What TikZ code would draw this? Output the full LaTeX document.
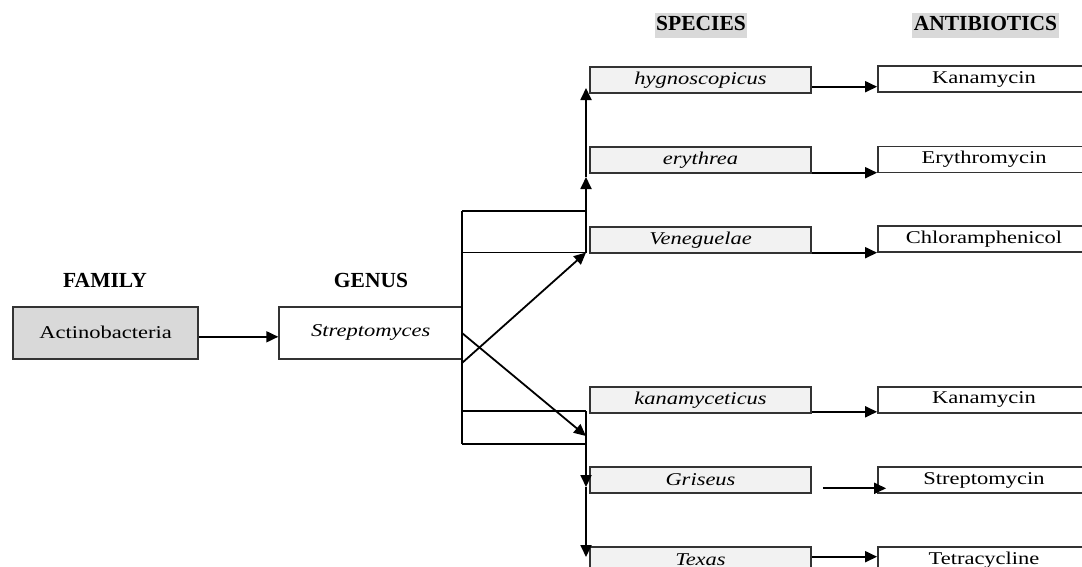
\documentclass[tikz,border=0pt]{standalone}
\usepackage{fontspec}
\setmainfont{Liberation Serif}
\newfontfamily\stretchfont[FakeStretch=1.25]{Liberation Serif}
\usetikzlibrary{arrows.meta}
\definecolor{boxline}{HTML}{333333}
\definecolor{spfill}{HTML}{F2F2F2}
\definecolor{famfill}{HTML}{D9D9D9}
\definecolor{hl}{HTML}{D9D9D9}
\begin{document}
\begin{tikzpicture}[x=1pt,y=-1pt,
  every node/.style={inner sep=0pt},
  bx/.style={draw=boxline, line width=1.8pt, minimum height=26pt, font=\stretchfont\fontsize{18}{20}\selectfont},
  spbox/.style={bx, fill=spfill, minimum width=221pt, font=\stretchfont\itshape\fontsize{18}{20}\selectfont},
  abbox/.style={bx, fill=white, minimum width=212pt},
  head/.style={font=\bfseries\fontsize{21.5}{24}\selectfont},
  hlhead/.style={head, fill=hl, inner xsep=1.5pt, text height=15pt, text depth=4.5pt, inner ysep=3pt},
  conn/.style={line width=1.8pt, black},
  arr/.style={conn, -{Triangle[length=12pt,width=11pt]}},
]
\useasboundingbox (0,0) rectangle (1082,566);
\clip (0,0) rectangle (1082,566);

% headers
\node[head] (famh) at (105,280) {FAMILY};
\node[head] (genh) at (371,280) {GENUS};
\node[hlhead] (sph) at (701,25.7) {SPECIES};
\node[hlhead] (abh) at (985.5,25.5) {ANTIBIOTICS};

% family and genus
\node[bx, fill=famfill, minimum width=185pt, minimum height=52pt] (act) at (105.7,332.8) {Actinobacteria};
\node[bx, fill=white, minimum width=183pt, minimum height=52pt, font=\stretchfont\itshape\fontsize{18}{20}\selectfont] (gen) at (370.7,332.8) {Streptomyces};

% species
\node[spbox] (hyg) at (700.5,80) {hygnoscopicus};
\node[spbox] (ery) at (700.5,159.7) {erythrea};
\node[spbox] (ven) at (700.5,239.7) {Veneguelae};
\node[spbox] (kanx) at (700.5,399.8) {kanamyceticus};
\node[spbox] (gri) at (700.5,480) {Griseus};
\node[spbox] (tex) at (700.5,560) {Texas};

% antibiotics
\node[abbox] (kan1) at (984,79.3) {Kanamycin};
\node[abbox] (ery1) at (984,159.5) {Erythromycin};
\node[abbox] (chl) at (984,239.2) {Chloramphenicol};
\node[abbox] (kan2) at (984,399.8) {Kanamycin};
\node[abbox] (str) at (984,480) {Streptomycin};
\node[abbox] (tet) at (984,560) {Tetracycline};

% connector points
\coordinate (uL1) at (462,211);
\coordinate (uR1) at (586,211);
\coordinate (uR2) at (586,252.5);
\coordinate (uL2) at (462,252.5);
\coordinate (upmid) at (586,177);
\coordinate (uptop) at (586,88);
\coordinate (lL1) at (462,411);
\coordinate (lR1) at (586,411);
\coordinate (lR2) at (586,444);
\coordinate (lL2) at (462,444);
\coordinate (dnmid) at (586,487);
\coordinate (dnbot) at (586,557);
\coordinate (d1s) at (462,363);
\coordinate (d2s) at (462,333);
\coordinate (d2e) at (586,436);

% family -> genus
\draw[arr] ([yshift=-4pt]act.east) -- ([yshift=-4pt]gen.west);

% genus trunk and brackets
\draw[conn] (uL1) -- (lL2);
\draw[conn] (uL1) -- (uR1) -- (uR2) -- (uL2);
\draw[arr] (uR1) -- (upmid);
\draw[arr] (upmid) -- (uptop);
\draw[arr] (d1s) -- (uR2);
\draw[arr] (d2s) -- (d2e);
\draw[conn] (lL1) -- (lR1);
\draw[conn] (lR2) -- (lL2);
\draw[arr] (lR1) -- (dnmid);
\draw[arr] (dnmid) -- (dnbot);

% species -> antibiotics
\draw[arr] ([yshift=-6.7pt]hyg.east) -- ([yshift=-6.7pt]hyg.east -| kan1.west);
\draw[arr] ([yshift=-13pt]ery.east) -- ([yshift=-13pt]ery.east -| ery1.west);
\draw[arr] ([yshift=-13pt]ven.east) -- ([yshift=-13pt]ven.east -| chl.west);
\draw[arr] ([yshift=-12pt]kanx.east) -- ([yshift=-12pt]kanx.east -| kan2.west);
\draw[arr] ([xshift=11pt,yshift=-8.3pt]gri.east) -- ([xshift=9pt,yshift=-8.3pt]gri.east -| str.west);
\draw[arr] ([yshift=3.3pt]tex.east) -- ([yshift=3.3pt]tex.east -| tet.west);
\end{tikzpicture}
\end{document}
